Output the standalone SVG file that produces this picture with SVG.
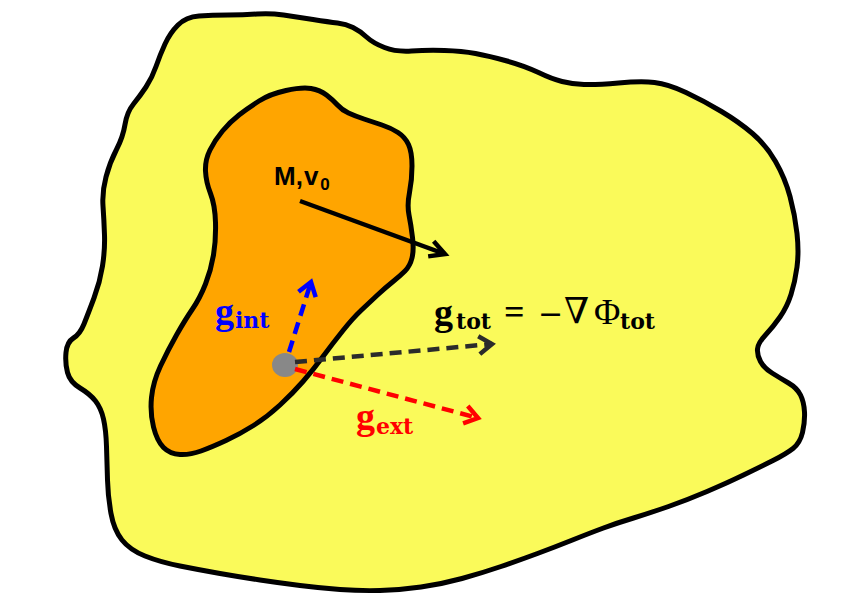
<svg xmlns="http://www.w3.org/2000/svg" width="843" height="607" viewBox="0 0 843 607">
<style>
.blob{stroke:#000;stroke-width:5;stroke-linejoin:round}
.big{font-family:"Liberation Serif","DejaVu Serif",serif;font-weight:bold;font-size:38px}
.sub{font-family:"DejaVu Serif","Liberation Serif",serif;font-weight:bold;font-size:22px}
.math{font-family:"Liberation Serif","DejaVu Serif",serif;font-size:36px}
.conn{fill:none;stroke-width:4.5}
.dash{stroke-dasharray:12 7}
</style>
<defs>
<marker id="hBlack" markerUnits="userSpaceOnUse" viewBox="-18 -12 22 24" refX="0" refY="0" markerWidth="22" markerHeight="24" orient="auto" overflow="visible"><path d="M-15,-8 L0,0 L-15,8" fill="none" stroke="#000" stroke-width="4.5"/></marker>
<marker id="hDark" markerUnits="userSpaceOnUse" viewBox="-18 -12 22 24" refX="0" refY="0" markerWidth="22" markerHeight="24" orient="auto" overflow="visible"><path d="M-13,-9 L0,0 L-13,9" fill="none" stroke="#2b2b2b" stroke-width="4.5"/></marker>
<marker id="hBlue" markerUnits="userSpaceOnUse" viewBox="-18 -12 22 24" refX="0" refY="0" markerWidth="22" markerHeight="24" orient="auto" overflow="visible"><path d="M-13,-9 L0,0 L-13,9" fill="none" stroke="#0000ff" stroke-width="4.5"/></marker>
<marker id="hRed" markerUnits="userSpaceOnUse" viewBox="-18 -12 22 24" refX="0" refY="0" markerWidth="22" markerHeight="24" orient="auto" overflow="visible"><path d="M-13,-9 L0,0 L-13,9" fill="none" stroke="#ff0000" stroke-width="4.5"/></marker>
</defs>
<rect width="843" height="607" fill="#fff"/>
<g id="outer">
<path class="blob" fill="#fafa5a" d="M178,25 Q186,17 199,16 Q212,15 228,15 Q244,15 257,14 Q270,13 283.5,15 Q297,17 313,19.5 Q329,22 337.5,23 Q346,24 353,27.5 Q360,31 366.5,37 Q373,43 384.5,47.5 Q396,52 411.5,51 Q427,50 444.5,50.5 Q462,51 475.5,53.5 Q489,56 507,61 Q525,66 538.5,72.5 Q552,79 562,81.5 Q572,84 584,84.5 Q596,85 618.5,83 Q641,81 654.5,82.5 Q668,84 686,92.5 Q704,101 721.5,111.5 Q739,122 752.5,133.5 Q766,145 775.5,161.5 Q785,178 790,196.5 Q795,215 797,233.5 Q799,252 797,267 Q795,282 791,294.5 Q787,307 780,317 Q773,327 765.5,335 Q758,343 757.5,349 Q757,355 760.5,361.5 Q764,368 772,373 Q780,378 788.5,383 Q797,388 800.5,395 Q804,402 804.5,412 Q805,422 802.5,432.5 Q800,443 793,448.5 Q786,454 773,460.5 Q760,467 743.5,475 Q727,483 707,491.5 Q687,500 668.5,506.5 Q650,513 633.5,518 Q617,523 603.5,528 Q590,533 572.5,540 Q555,547 537.5,553.5 Q520,560 501,566.5 Q482,573 462,578.5 Q442,584 421,587 Q400,590 380,590.5 Q360,591 340,589.5 Q320,588 300,585.5 Q280,583 260,580 Q240,577 220,573.5 Q200,570 180,566 Q160,562 145,556 Q130,550 122,540 Q114,530 111,513.5 Q108,497 107.5,480 Q107,463 106.5,446.5 Q106,430 103.5,419 Q101,408 95.5,401 Q90,394 80,388 Q70,382 67.5,372.5 Q65,363 66,352.5 Q67,342 73.5,338 Q80,334 84,324 Q88,314 94,298 Q100,282 102.5,266 Q105,250 104.5,235 Q104,220 103,206 Q102,192 106,177 Q110,162 116.5,149.5 Q123,137 125,124.5 Q127,112 133.5,104 Q140,96 146,87 Q152,78 156,66.5 Q160,55 165,44 Q170,33 178,25 Z"/>
</g>
<g id="inner">
<path class="blob" fill="#ffa500" d="M286,90.5 Q302,87 311,88.5 Q320,90 326.5,95 Q333,100 337.5,105 Q342,110 348.5,113 Q355,116 364,119 Q373,122 382,125 Q391,128 398,132.5 Q405,137 408.5,144.5 Q412,152 412,166 Q412,180 409.5,192.5 Q407,205 409,215 Q411,225 412.5,237.5 Q414,250 412,258 Q410,266 405,271 Q400,276 392.5,282 Q385,288 377.5,295 Q370,302 361.5,310 Q353,318 343,330.5 Q333,343 323,356.5 Q313,370 303,381.5 Q293,393 280,405 Q267,417 253.5,425.5 Q240,434 226,440.5 Q212,447 201,451 Q190,455 180,454.5 Q170,454 163.5,447.5 Q157,441 153.5,427 Q150,413 151.5,397.5 Q153,382 160.5,366 Q168,350 176.5,335 Q185,320 192.5,309 Q200,298 205.5,284 Q211,270 213.5,255 Q216,240 215.5,222.5 Q215,205 210.5,193.5 Q206,182 205.5,171 Q205,160 210,150 Q215,140 222.5,131 Q230,122 239,115 Q248,108 259,101 Q270,94 286,90.5 Z"/>
<text x="274" y="185" font-family="'Liberation Sans','DejaVu Sans',sans-serif" font-weight="bold" font-size="26">M,<tspan dx="1">v</tspan><tspan font-size="17" dx="2" dy="5">0</tspan></text>
</g>
<g id="particle">
<ellipse cx="285" cy="365" rx="13" ry="12" fill="#888"/>
</g>
<g id="connectors">
<line class="conn" x1="300" y1="201" x2="445" y2="254" stroke="#000" stroke-width="5" marker-end="url(#hBlack)"/>
<line class="conn dash" x1="289" y1="352" x2="311" y2="282" stroke="#0000ff" marker-end="url(#hBlue)"/>
<line class="conn dash" x1="295" y1="362" x2="492" y2="344" stroke="#2b2b2b" marker-end="url(#hDark)"/>
<line class="conn dash" x1="295" y1="369" x2="478" y2="418" stroke="#ff0000" marker-end="url(#hRed)"/>
</g>
<g id="label-gint" fill="#0000ff">
<text class="big" x="215" y="324">g</text><text class="sub" x="235" y="328">int</text>
</g>
<g id="label-gext" fill="#ff0000">
<text class="big" x="356" y="429">g</text><text class="sub" x="376" y="434">ext</text>
</g>
<g id="label-gtot" fill="#000">
<text class="big" x="434" y="325">g</text><text class="sub" x="456" y="329">tot</text>
<text class="math" x="504" y="324" font-weight="bold">=</text>
<text x="538" y="324" font-family="'DejaVu Serif',serif" font-size="30">−</text>
<text class="math" x="564" y="323">∇</text>
<text class="math" x="594" y="324">Φ</text>
<text class="sub" x="620" y="329">tot</text>
</g>
</svg>
